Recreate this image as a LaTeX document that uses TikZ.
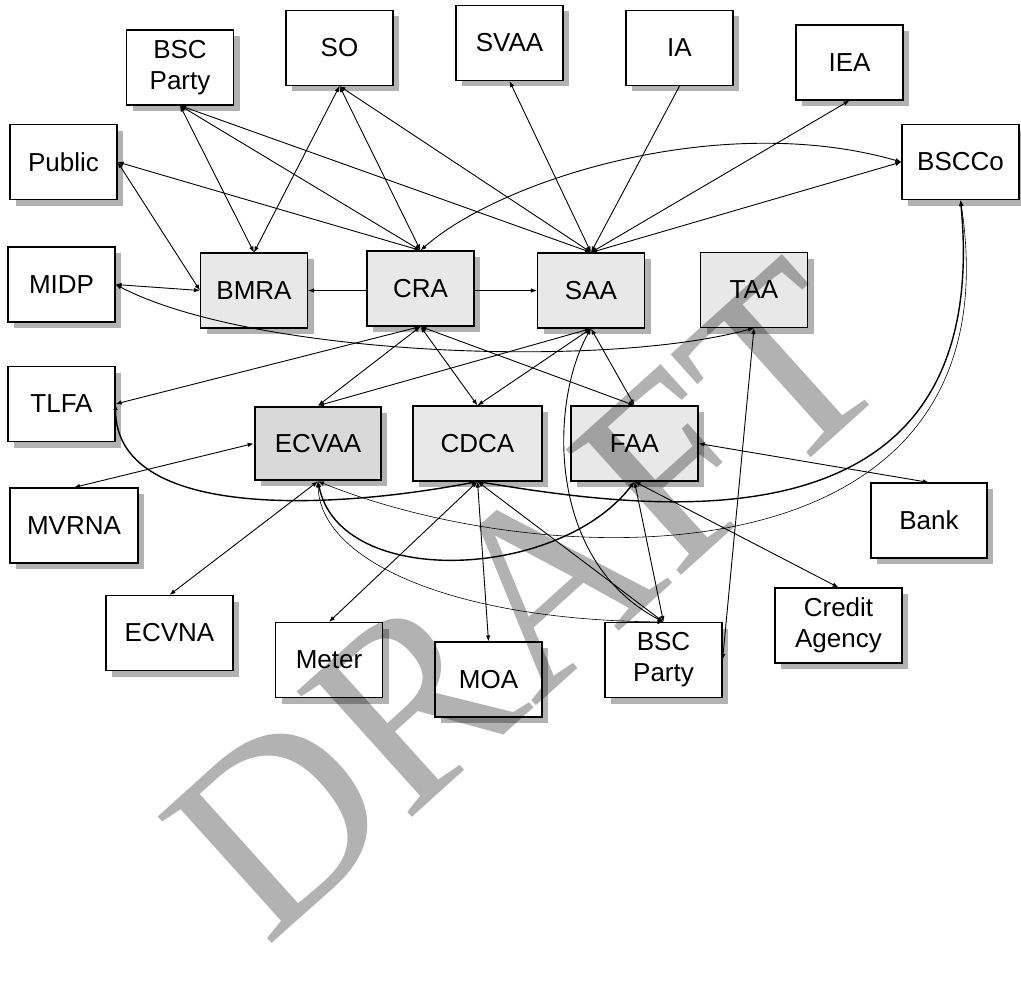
\documentclass[tikz,border=0pt]{standalone}
\usepackage{fontspec}
\setmainfont{Liberation Sans}
\newfontfamily\wmfont{Liberation Serif}
\usetikzlibrary{arrows.meta,shadows}
\begin{document}
\begin{tikzpicture}[x=1pt,y=-1pt,
  >={Latex[length=6pt,width=4.5pt]},
  box/.style={draw, line width=1.1pt, fill=white, inner sep=0pt, align=center,
    minimum width=107pt, minimum height=75pt, font=\fontsize{26}{31}\selectfont,
    drop shadow={shadow xshift=6pt, shadow yshift=-6pt, fill=black!30, opacity=1}},
  gbox/.style={box, fill=black!9},
  link/.style={line width=0.9pt},
  thinlink/.style={line width=0.6pt},
  thicklink/.style={line width=1.4pt},
  wmark/.style={font=\wmfont\fontsize{260}{260}\selectfont, text=black!30, rotate=42, anchor=base west, inner sep=0pt}
]
\useasboundingbox (0,0) rectangle (1021,982);
\fill[white] (0,0) rectangle (1021,982);

% boxes
\node[box] (BSCP1) at (180,67.5) {BSC\\Party};
\node[box] (SO) at (339.5,48) {SO};
\node[box] (SVAA) at (509.5,43) {SVAA};
\node[box] (IA) at (679.5,48) {IA};
\node[box] (IEA) at (849.5,62.5) {IEA};
\node[box] (Public) at (63.5,162) {Public};
\node[box, minimum width=117pt] (BSCCo) at (960.5,162) {BSCCo};
\node[box] (MIDP) at (61.5,284.5) {MIDP};
\node[gbox] (BMRA) at (254,290.5) {BMRA};
\node[gbox] (CRA) at (420.5,288.5) {CRA};
\node[gbox] (SAA) at (591,290.5) {SAA};
\node[gbox] (TAA) at (754,290) {TAA};
\node[box] (TLFA) at (61.5,404) {TLFA};
\node[box, fill=black!15, line width=2.6pt, minimum width=126pt, minimum height=73pt] (ECVAA) at (318,443.5) {ECVAA};
\node[gbox, minimum width=129pt] (CDCA) at (477.5,443.5) {CDCA};
\node[gbox, minimum width=127pt] (FAA) at (634.5,443.5) {FAA};
\node[box, minimum width=128pt] (MVRNA) at (74,525.5) {MVRNA};
\node[box, minimum width=116pt] (Bank) at (929,520.5) {Bank};
\node[box, minimum width=127pt] (ECVNA) at (169.5,633) {ECVNA};
\node[box, minimum width=127pt] (Credit) at (838.5,625.5) {Credit\\Agency};
\node[box] (Meter) at (329,660) {Meter};
\node[box] (MOA) at (488.5,679.5) {MOA};
\node[box, minimum width=117pt] (BSCP2) at (663.5,660) {BSC\\Party};

% connectors, upper part
\draw[link,<->] (BSCP1.south) -- (BMRA.north);
\draw[link,<->] (BSCP1.south) -- (CRA.north);
\draw[link,<->] (BSCP1.south) -- (SAA.north);
\draw[link,<->] (SO.south) -- (BMRA.north);
\draw[link,<->] (SO.south) -- (CRA.north);
\draw[link,<->] (SO.south) -- (SAA.north);
\draw[link,<->] (Public.east) -- (BMRA.west);
\draw[link,<->] (Public.east) -- (CRA.north);
\draw[link,<->] (MIDP.east) -- (BMRA.west);
\draw[link,<->] (MIDP.east) .. controls (250,355) and (600,370) .. (TAA.south);
\draw[link,<->] (SVAA.south) -- (SAA.north);
\draw[link,->] (IA.south) -- (SAA.north);
\draw[link,<->] (IEA.south) -- (SAA.north);
\draw[link,<->] (SAA.north) -- (BSCCo.west);
\draw[link,<->] (CRA.north) .. controls (500,180) and (720,110) .. (BSCCo.west);
\draw[link,->] (CRA.west |- BMRA.east) -- (BMRA.east);
\draw[link,->] (CRA.east |- SAA.west) -- (SAA.west);

% connectors, middle
\draw[link,<->] (CRA.south) -- (ECVAA.north);
\draw[link,<->] (TLFA.east) -- (CRA.south);
\draw[link,<->] (ECVAA.north) -- (SAA.south);
\draw[link,<->] (CRA.south) -- (CDCA.north);
\draw[link,<->] (CRA.south) -- (FAA.north);
\draw[link,<->] (SAA.south) -- (CDCA.north);
\draw[link,<->] (SAA.south) -- (FAA.north);
\draw[link,<->] (SAA.south) .. controls (550,400) and (545,560) .. (BSCP2.north);
\draw[link,<->] (TAA.south) -- (BSCP2.east);

% connectors, lower part
\draw[link,<->] (ECVAA.south) -- (ECVNA.north);
\draw[link,<->] (ECVAA.west) -- (MVRNA.north);
\draw[thicklink,<->] (TLFA.east) .. controls (115,520) and (330,510) .. (CDCA.south);
\draw[thicklink,<->] (CDCA.south) .. controls (650,510) and (995,560) .. (BSCCo.south);
\draw[thinlink,<->] (ECVAA.south) .. controls (550,575) and (1020,590) .. (BSCCo.south);
\draw[thicklink,<->] (ECVAA.south) .. controls (340,590) and (560,580) .. (FAA.south);
\draw[thinlink,<->] (ECVAA.south) .. controls (320,560) and (450,620) .. (BSCP2.north);
\draw[link,<->] (FAA.south) -- (BSCP2.north);
\draw[link,<->] (FAA.south) -- (Credit.north);
\draw[link,<->] (FAA.east) -- (Bank.north);
\draw[link,<->] (CDCA.south) -- (Meter.north);
\draw[link,<->] (CDCA.south) -- (MOA.north);
\draw[link,<->] (CDCA.south) -- (BSCP2.north);

% watermark
\begin{scope}[blend mode=multiply]
\node[wmark] (wm) at (266,949) {DRAFT};
\end{scope}
\end{tikzpicture}
\end{document}
